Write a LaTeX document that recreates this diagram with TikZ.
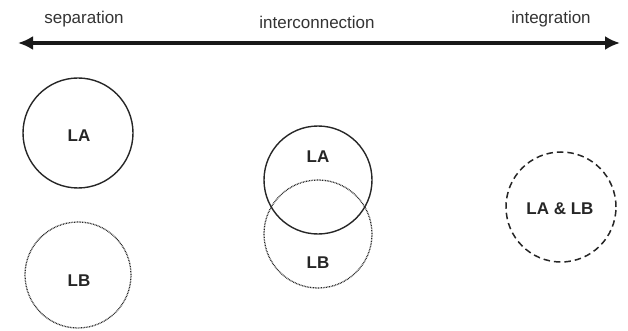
\documentclass[tikz,border=0pt]{standalone}
\usepackage{fontspec}
\setmainfont{Liberation Sans}
\usetikzlibrary{arrows.meta}
\begin{document}
\begin{tikzpicture}[x=1pt,y=-1pt,
  lbl/.style={font=\fontsize{17}{20}\selectfont, text=black!80},
  txt/.style={font=\bfseries\fontsize{17}{20}\selectfont, text=black!85, inner sep=0pt},
  circ/.style={circle, draw=black!85, line width=1.4pt, minimum size=#1, inner sep=0pt},
  dotc/.style={circ=#1, line width=1.3pt, dash pattern=on 0.8pt off 0.8pt},
  dashc/.style={circ=#1, line width=1.5pt, dash pattern=on 6.5pt off 4pt}]
\useasboundingbox (0,0) rectangle (628,331);
\coordinate (L) at (18,43);
\coordinate (R) at (620,43);
\draw[line width=3.5pt, black!90, {Latex[length=15pt,width=14pt]}-{Latex[length=15pt,width=14pt]}] (L) -- (R);
\node[lbl] (sep) at (84,19) {separation};
\node[lbl] (inter) at (317,22) {interconnection};
\node[lbl] (integ) at (551,19) {integration};
\node[circ=110pt] (la1) at (78,133) {};
\node[txt] (la1t) at (79,136) {LA};
\node[dotc=106pt] (lb1) at (78,275) {};
\node[txt] (lb1t) at (79,281) {LB};
\node[dotc=108pt] (lb2) at (318,234) {};
\node[circ=108pt] (la2) at (318,180) {};
\node[txt] (la2t) at (318,157) {LA};
\node[txt] (lb2t) at (318,263) {LB};
\node[dashc=110pt] (lab) at (561,207) {};
\node[txt] (labt) at (560,209) {LA \& LB};
\end{tikzpicture}
\end{document}
